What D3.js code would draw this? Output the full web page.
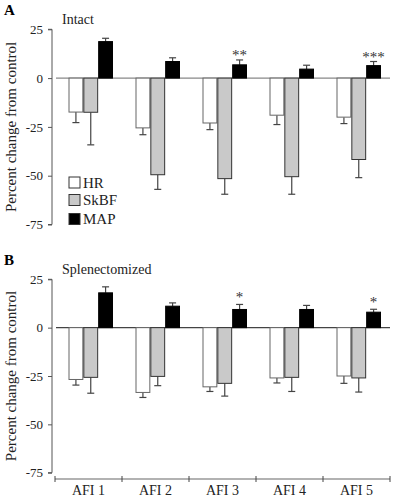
<!DOCTYPE html>
<html><head><meta charset="utf-8">
<script src="https://cdn.jsdelivr.net/npm/d3@7"></script>
<style>body{margin:0;background:#fff;} svg{display:block;} svg text{font-family:"Liberation Serif","Times New Roman",Times,serif;}</style>
</head><body>
<script>
const categories = ["AFI 1","AFI 2","AFI 3","AFI 4","AFI 5"];
const series = ["HR","SkBF","MAP"];
const yTicks = [25,0,-25,-50,-75];
// Panel A: Intact
const intactHR = [-17.4,-25.5,-23,-19,-20];
const intactHRErr = [-22.8,-29,-26.4,-23.8,-23.3];
const intactSkBF = [-17.5,-49.5,-51.5,-50.5,-41.7];
const intactSkBFErr = [-34.2,-57,-59.5,-59.5,-51];
const intactMAP = [18.7,8.5,6.8,4.6,6.4];
const intactMAPErr = [20.4,10.4,9.3,6.6,8.5];
const intactSig = ["","","**","","***"];
// Panel B: Splenectomized
const splenHR = [-26.8,-33.5,-30.6,-26,-25];
const splenHRErr = [-29.7,-36.1,-33,-28.6,-28.8];
const splenSkBF = [-25.7,-25.2,-28.8,-25.7,-26];
const splenSkBFErr = [-33.9,-30,-35.4,-33,-33.3];
const splenMAP = [18,11.1,9.4,9.4,8];
const splenMAPErr = [21.1,12.8,12,11.5,9.5];
const splenSig = ["","","*","","*"];

const W=398,H=498;
const svg=d3.select("body").append("svg").attr("width",W).attr("height",H);
const fills={HR:"#ffffff",SkBF:"#c9c9c9",MAP:"#000000"};
const strokes={HR:"#666",SkBF:"#333",MAP:"#000"};

const x0=d3.scaleBand().domain(categories).range([55,390]);
const x1=d3.scaleBand().domain(series).range([13.5,58]);

function panel(cfg){
  const y=d3.scaleLinear().domain([-75,25]).range([cfg.bottom,cfg.top]);
  const g=svg.append("g");
  const ax=g.append("g").attr("transform","translate(52,0)")
    .call(d3.axisLeft(y).tickValues(yTicks).tickSize(4).tickPadding(5).tickFormat(d=>String(d)));
  ax.attr("font-family",null);
  ax.select(".domain").attr("stroke","#555").attr("d",`M-4,${y(25)}H0V${y(-75)}H-4`);
  ax.selectAll(".tick line").attr("stroke","#555");
  ax.selectAll(".tick text").attr("font-size",13).attr("fill","#222");
  g.append("line").attr("x1",56).attr("x2",390).attr("y1",y(0)).attr("y2",y(0))
    .attr("stroke",cfg.zeroColor).attr("stroke-width",1.3);
  g.append("text").attr("transform",`translate(16,${(y(25)+y(-75))/2}) rotate(-90)`)
    .attr("text-anchor","middle").attr("font-size",15).attr("fill","#222").text("Percent change from control");
  g.append("text").attr("x",4).attr("y",cfg.top-14).attr("font-size",15).attr("font-weight","bold").text(cfg.letter);
  g.append("text").attr("x",62).attr("y",cfg.top-5).attr("font-size",14).attr("fill","#222").text(cfg.title);
  const data=[];
  categories.forEach((c,i)=>{
    series.forEach(s=>{
      data.push({c,s,v:cfg.vals[s][i],e:cfg.errs[s][i]});
    });
  });
  const eg=g.append("g").attr("stroke","#444").attr("stroke-width",1.2);
  data.forEach(d=>{
    const cx=x0(d.c)+x1(d.s)+x1.bandwidth()/2;
    eg.append("line").attr("x1",cx).attr("x2",cx).attr("y1",y(d.v)).attr("y2",y(d.e));
    eg.append("line").attr("x1",cx-3.5).attr("x2",cx+3.5).attr("y1",y(d.e)).attr("y2",y(d.e));
  });
  g.append("g").selectAll("rect").data(data).join("rect")
    .attr("x",d=>x0(d.c)+x1(d.s)+0.5)
    .attr("width",x1.bandwidth()-1)
    .attr("y",d=>Math.min(y(d.v),y(0)))
    .attr("height",d=>Math.abs(y(d.v)-y(0)))
    .attr("fill",d=>fills[d.s]).attr("stroke",d=>strokes[d.s]).attr("stroke-width",1);
  categories.forEach((c,i)=>{
    if(!cfg.sig[i])return;
    const cx=x0(c)+x1("MAP")+x1.bandwidth()/2;
    g.append("text").attr("x",cx).attr("y",y(cfg.errs.MAP[i])-cfg.sigGap).attr("text-anchor","middle")
      .attr("font-size",15).attr("fill","#333").text(cfg.sig[i]);
  });
  return {g,y};
}

panel({top:29.3,bottom:224.5,zeroColor:"#888",letter:"A",title:"Intact",sigGap:0,
  vals:{HR:intactHR,SkBF:intactSkBF,MAP:intactMAP},errs:{HR:intactHRErr,SkBF:intactSkBFErr,MAP:intactMAPErr},sig:intactSig});
panel({top:279.3,bottom:472.7,zeroColor:"#444",letter:"B",title:"Splenectomized",sigGap:2,
  vals:{HR:splenHR,SkBF:splenSkBF,MAP:splenMAP},errs:{HR:splenHRErr,SkBF:splenSkBFErr,MAP:splenMAPErr},sig:splenSig});

const lg=svg.append("g");
series.forEach((s,i)=>{
  const yy=[182.5,200,219][i];
  lg.append("rect").attr("x",69).attr("y",yy-5.5).attr("width",11).attr("height",11)
    .attr("fill",fills[s]).attr("stroke","#333");
  lg.append("text").attr("x",83).attr("y",yy+5).attr("font-size",15).attr("fill","#222").text(s);
});

const xa=svg.append("g").attr("transform","translate(0,479)");
xa.append("line").attr("x1",55).attr("x2",390).attr("stroke","#666").attr("stroke-width",1.2);
const bounds=categories.map(c=>x0(c)).concat([x0.range()[1]]);
bounds.forEach(b=>xa.append("line").attr("x1",b).attr("x2",b).attr("y1",-3).attr("y2",3).attr("stroke","#444"));
categories.forEach(c=>xa.append("text").attr("x",x0(c)+x0.bandwidth()/2).attr("y",16)
  .attr("text-anchor","middle").attr("font-size",14).attr("fill","#222").text(c));
</script>
</body></html>
